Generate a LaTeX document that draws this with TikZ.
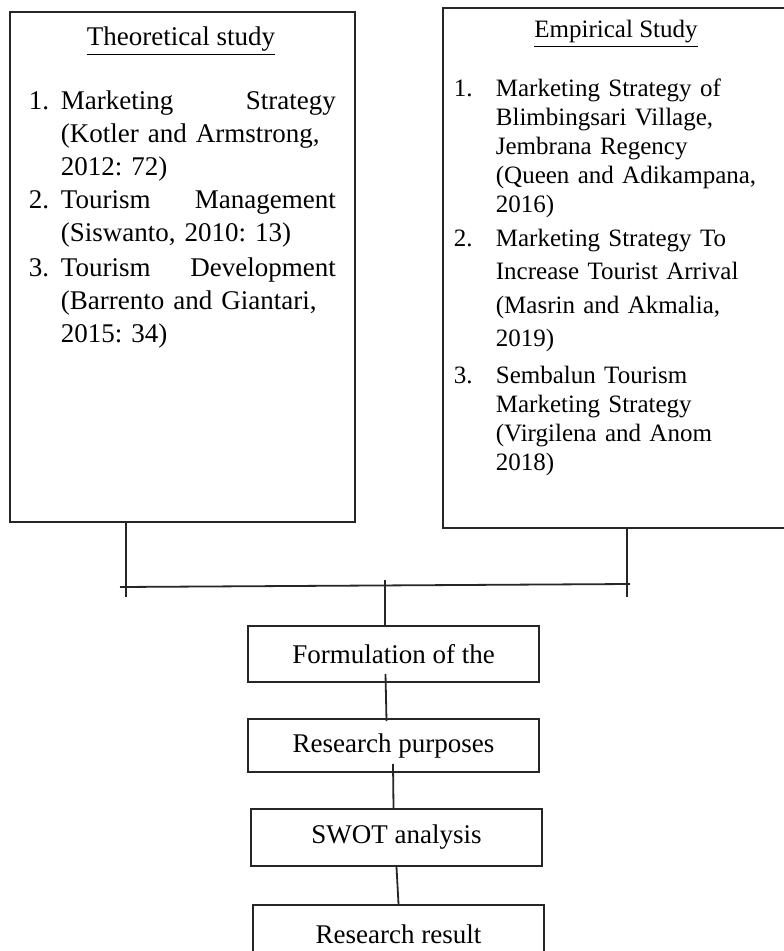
\documentclass[tikz,border=0pt]{standalone}
\usepackage{fontspec}
\setmainfont{Liberation Serif}
\usetikzlibrary{
calc
}
\newlength{\numwidth}
\newlength{\colwidth}
\newcommand{\numitem}[2]{%
  \hangindent=\numwidth\hangafter=1\noindent
  \makebox[\numwidth][l]{#1}#2\par}
\newcommand{\fullline}[1]{\makebox[\colwidth][s]{#1}}

\begin{document}
\begin{tikzpicture}[
        x=0.5pt, y=-0.5pt,
        line width=0.9pt,
        every node/.append style={
          inner sep=0pt,
        },
        study box/.style={
          draw=black!85, rectangle,
        },
        study head/.style={
          anchor=base,
          font=\fontsize{13.5}{16}\selectfont,
        },
        study list/.style={
          anchor=base west, align=left,
        },
        flow box/.style={
          draw=black!85, rectangle,
          minimum width=145.5pt,
          font=\fontsize{13.5}{16}\selectfont,
        },
        joint line/.style={
          draw=black!85,
        },
        ]
        \useasboundingbox (0,0) rectangle (783,951);
        \node [study box, minimum width=172.5pt, minimum height=255pt] (theo) at (182.5,267) {};
        \node [study box, minimum width=173.5pt, minimum height=260pt] (emp) at (616.5,268) {};
        \node [study head] (theo head) at (181,46) {\underline{Theoretical study}};
        \node [study head, font=\fontsize{12.5}{15}\selectfont] (emp head) at (616,38) {\underline{Empirical Study}};
        \node [study list, text width=153.5pt, font=\fontsize{13.5}{16.4}\selectfont] (theo list) at (28,110) {%
          \frenchspacing\setlength{\numwidth}{16pt}\setlength{\colwidth}{137.5pt}%
          \numitem{1.}{\fullline{Marketing\hfill Strategy}\newline\fullline{(Kotler and Armstrong,}\newline 2012: 72)}%
          \numitem{2.}{\fullline{Tourism\hfill Management}\newline (Siswanto, 2010: 13)}%
          \vspace{1.5pt}%
          \numitem{3.}{\fullline{Tourism\hfill Development}\newline\fullline{(Barrento and Giantari,}\newline 2015: 34)}};
        \node [study list, text width=161pt, font=\fontsize{12.5}{14.5}\selectfont] (emp list) at (453,97) {%
          \frenchspacing\setlength{\numwidth}{21pt}%
          \numitem{1.}{Marketing Strategy of\newline Blimbingsari Village,\newline Jembrana Regency\newline (Queen and Adikampana,\newline 2016)}%
          \numitem{2.}{\setlength{\baselineskip}{16.7pt}Marketing Strategy To\newline Increase Tourist Arrival\newline (Masrin and Akmalia,\newline 2019)}%
          \vspace{4pt}%
          \numitem{3.}{\setlength{\baselineskip}{14.5pt}Sembalun Tourism\newline Marketing Strategy\newline (Virgilena and Anom\newline 2018)}};
        \node [flow box, minimum height=28pt] (form) at (393.5,654) {Formulation of the};
        \node [flow box, minimum height=26.5pt] (purp) at (393.5,745.5) {Research purposes};
        \node [flow box, minimum height=28.5pt] (swot) at (396.5,837.5) {SWOT analysis};
        \node [flow box, minimum height=29pt] (res) at (398.5,934) {Research result};
        \coordinate (join left) at (126,597);
        \coordinate (join right) at (627,597);
        \coordinate (bar left) at (120,587);
        \coordinate (bar right) at (630,584);
        \coordinate (join mid) at (385,580);
        \draw [joint line] (theo.south -| join left) -- (join left);
        \draw [joint line] (emp.south -| join right) -- (join right);
        \draw [joint line] (bar left) -- (bar right);
        \draw [joint line] (join mid) -- (join mid |- form.north);
        \draw [joint line] ($(form.south)+(-8,-9)$) -- ($(purp.north)+(-7,3)$);
        \draw [joint line] ($(purp.south)+(-0.5,-9)$) -- ($(swot.north)+(-3,0)$);
        \draw [joint line] (swot.south) -- (res.north);
      \end{tikzpicture}
\end{document}
